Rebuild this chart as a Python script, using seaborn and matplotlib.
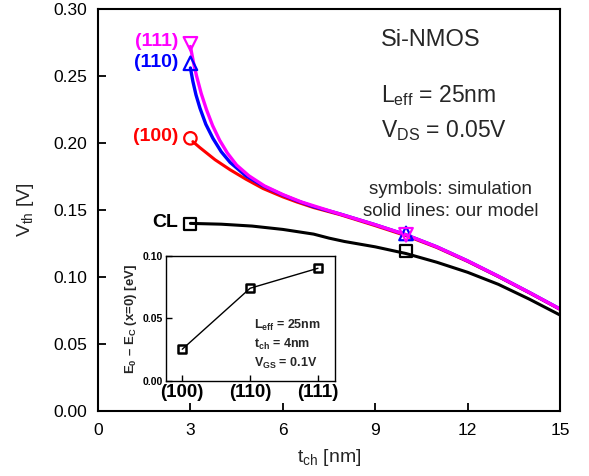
import matplotlib
matplotlib.use("Agg")
import matplotlib.pyplot as plt
import seaborn as sns
import numpy as np

# ---- data ----
cl_t = [3.0, 4.0, 5.0, 6.0, 7.0, 7.5, 8.0, 9.0, 10.0, 11.0, 12.0, 13.0, 14.0, 15.0]
cl_v = [0.1400, 0.1394, 0.1380, 0.1355, 0.1320, 0.1290, 0.1265, 0.1225, 0.1175, 0.1110, 0.1035, 0.0945, 0.0835, 0.0716]

m111_t = [3.0, 3.1, 3.2, 3.35, 3.52, 3.72, 3.95, 4.2, 4.5, 4.9, 5.4, 6.0, 6.6, 7.5, 8.0, 9.0, 10.0, 11.0, 12.0, 13.0, 14.0, 15.0]
m111_v = [0.2720, 0.260, 0.250, 0.237, 0.225, 0.213, 0.202, 0.1925, 0.1835, 0.1755, 0.1680, 0.1615, 0.1560, 0.1495, 0.1460, 0.1390, 0.1315, 0.1225, 0.1120, 0.1005, 0.0885, 0.0761]

m110_t = [3.0, 3.08, 3.18, 3.31, 3.5, 3.73, 4.0, 4.29, 4.8, 5.36, 6.0, 6.45, 7.0, 7.86, 9.0, 10.0, 11.0, 12.0, 13.0, 14.0, 15.0]
m110_v = [0.2560, 0.246, 0.236, 0.226, 0.214, 0.2035, 0.1935, 0.1855, 0.1755, 0.1680, 0.1612, 0.1570, 0.1525, 0.1470, 0.1390, 0.1315, 0.1225, 0.1120, 0.1005, 0.0885, 0.0761]

m100_t = [3.08, 3.31, 3.8, 4.29, 4.8, 5.36, 6.0, 6.45, 7.0, 7.86, 9.0, 10.0, 11.0, 12.0, 13.0, 14.0, 15.0]
m100_v = [0.2010, 0.1965, 0.1875, 0.1800, 0.1730, 0.1660, 0.1598, 0.1560, 0.1518, 0.1465, 0.1383, 0.1308, 0.1220, 0.1116, 0.1002, 0.0882, 0.0758]

sim_cl_t = [3.0, 10.0]
sim_cl_v = [0.1396, 0.1194]
sim_111_t = [3.0, 10.0]
sim_111_v = [0.2740, 0.1315]
sim_110_t = [3.0, 10.0]
sim_110_v = [0.2595, 0.1325]
sim_100_t = [3.0]
sim_100_v = [0.2035]

inset_cats = ["(100)", "(110)", "(111)"]
inset_vals = [0.0254, 0.0742, 0.0902]

# ---- style ----
sns.set_theme(style="ticks")
plt.rcParams['font.family'] = ['Liberation Sans', 'DejaVu Sans']
plt.rcParams['mathtext.fontset'] = 'custom'
plt.rcParams['mathtext.rm'] = 'Liberation Sans'
plt.rcParams['mathtext.it'] = 'Liberation Sans:italic'
plt.rcParams['mathtext.bf'] = 'Liberation Sans:bold'

fig = plt.figure(figsize=(5.89, 4.76), dpi=100)
ax = fig.add_axes([0.1664, 0.1366, 0.7844, 0.8445])

MAG = "#FF00FF"
BLU = "#0000FF"
RED = "#FF0000"

sns.lineplot(x=cl_t, y=cl_v, color="black", lw=2.2, ax=ax, sort=False)
sns.lineplot(x=m100_t, y=m100_v, color=RED, lw=2.2, ax=ax, sort=False)
sns.lineplot(x=m110_t, y=m110_v, color=BLU, lw=2.4, ax=ax, sort=False)
sns.lineplot(x=m111_t, y=m111_v, color=MAG, lw=2.4, ax=ax, sort=False)

def sym(tt, vv, marker, color, s):
    sns.scatterplot(x=tt, y=vv, marker=marker, s=s, facecolor="none",
                    edgecolor=color, linewidth=1.6, ax=ax, zorder=5)

sym(sim_cl_t, sim_cl_v, "s", "black", 75)
sym(sim_100_t, sim_100_v, "o", RED, 80)
sym(sim_110_t, sim_110_v, "^", BLU, 95)
sym(sim_111_t, sim_111_v, "v", MAG, 95)

ax.set_xlim(0, 15)
ax.set_ylim(0, 0.30)
ax.set_xticks([0, 3, 6, 9, 12, 15])
ax.set_yticks([0.0, 0.05, 0.10, 0.15, 0.20, 0.25, 0.30])
ax.set_yticklabels(["0.00", "0.05", "0.10", "0.15", "0.20", "0.25", "0.30"])
ax.tick_params(direction="in", length=6, width=1.3, labelsize=12.5, colors="black")
ax.tick_params(axis="x", pad=9)
ax.tick_params(axis="y", pad=8)
for s in ax.spines.values():
    s.set_linewidth(1.5)
    s.set_color("black")
ax.set_xlabel("t$_{\\rm ch}$ [nm]", fontsize=14, labelpad=6)
ax.set_ylabel("V$_{\\rm th}$ [V]", fontsize=14, labelpad=12)

# labels
ax.text(2.6, 0.2755, "(111)", color=MAG, fontsize=14, fontweight="bold", ha="right", va="center")
ax.text(2.6, 0.2600, "(110)", color=BLU, fontsize=14, fontweight="bold", ha="right", va="center")
ax.text(2.6, 0.2045, "(100)", color=RED, fontsize=14, fontweight="bold", ha="right", va="center")
ax.text(2.6, 0.1405, "CL", color="black", fontsize=14, fontweight="bold", ha="right", va="center")

ax.text(9.2, 0.2770, "Si-NMOS", fontsize=17, ha="left", va="center")
ax.text(9.2, 0.2355, "L$_{\\rm eff}$ = 25nm", fontsize=16.5, ha="left", va="center")
ax.text(9.2, 0.2090, "V$_{\\rm DS}$ = 0.05V", fontsize=16.5, ha="left", va="center")
ax.text(11.45, 0.1650, "symbols: simulation", fontsize=13.5, ha="center", va="center")
ax.text(11.45, 0.1490, "solid lines: our model", fontsize=13.5, ha="center", va="center")

# ---- inset ----
ins = fig.add_axes([0.2818, 0.1996, 0.2869, 0.2626])
ins.set_facecolor("white")
xpos = list(range(len(inset_cats)))
sns.lineplot(x=xpos, y=inset_vals, color="black", lw=1.0, ax=ins)
sns.scatterplot(x=xpos, y=inset_vals, marker="s", s=30, facecolor="none",
                edgecolor="black", linewidth=1.8, ax=ins, zorder=5)
ins.set_xlim(-0.24, 2.25)
ins.set_ylim(0, 0.10)
ins.set_xticks(xpos)
ins.set_xticklabels(inset_cats, fontsize=13.5, fontweight="bold")
ins.set_yticks([0.0, 0.05, 0.10])
ins.set_yticklabels(["0.00", "0.05", "0.10"], fontsize=7.5, fontweight="bold")
ins.tick_params(direction="in", length=4, width=1.0, pad=2, colors="black")
ins.tick_params(axis="x", pad=2)
for s in ins.spines.values():
    s.set_linewidth(1.0)
    s.set_color("black")
ins.set_ylabel("E$_{\\bf 0}$ \u2013 E$_{\\bf C}$ (x=0) [eV]", fontsize=9.5, fontweight="bold", labelpad=3)
ins.text(1.06, 0.0448, "L$_{\\bf eff}$ = 25nm", fontsize=9, fontweight="bold", ha="left", va="center")
ins.text(1.06, 0.0296, "t$_{\\bf ch}$ = 4nm", fontsize=9, fontweight="bold", ha="left", va="center")
ins.text(1.06, 0.0144, "V$_{\\bf GS}$ = 0.1V", fontsize=9, fontweight="bold", ha="left", va="center")

fig.savefig("out.png", dpi=100)
